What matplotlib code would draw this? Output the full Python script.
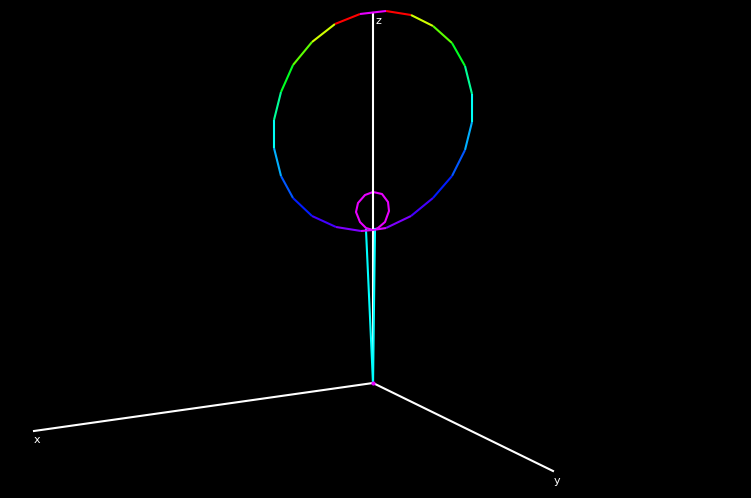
import matplotlib
matplotlib.use("Agg")
from matplotlib import pyplot as plt
from matplotlib.collections import LineCollection

# projected screen positions (pixels)
origin = (373, 383)
axis_ends = {"x": (34, 431), "y": (553, 471), "z": (373, 13)}
label_pos = {"x": (34, 440), "y": (554, 481), "z": (376, 21)}

# big lobe, clockwise from top
big_x = [386, 411, 433, 452, 465, 472, 472, 465, 452, 433, 411, 386, 373,
         361, 336, 312, 293, 281, 274, 274, 281, 293, 312, 335, 360, 386]
big_y = [11, 15, 26, 43, 66, 94, 122, 150, 176, 198, 216, 228, 230,
         231, 227, 216, 198, 176, 148, 120, 92, 65, 42, 24, 14, 11]
# hue of each segment (hsv colormap)
big_hue = [0.0, 0.2, 0.28, 0.36, 0.44, 0.5, 0.56, 0.62, 0.66, 0.72, 0.76, 0.82,
           0.82, 0.76, 0.72, 0.66, 0.62, 0.56, 0.5, 0.44, 0.36, 0.28, 0.2, 0.0, 0.83]

# small lobe
small_x = [373, 366, 360, 356, 358, 365, 373, 382, 388, 389, 385, 378, 373]
small_y = [230, 228, 222, 212, 203, 195, 192, 194, 202, 211, 222, 228, 230]

# stem lines from origin
stem_tops = [(366, 230), (375, 229)]

fig = plt.figure(figsize=(7.51, 4.98), dpi=100, facecolor="black")
ax = fig.add_axes([0, 0, 1, 1], facecolor="black")
ax.set_xlim(0, 751)
ax.set_ylim(498, 0)
ax.axis("off")

cmap = plt.get_cmap("hsv")
lw = 1.5

for name, end in axis_ends.items():
    ax.plot([origin[0], end[0]], [origin[1], end[1]], color="white", lw=lw, zorder=2)
    ax.text(label_pos[name][0], label_pos[name][1], name, color="white",
            fontsize=8, ha="left", va="center", zorder=5)

for top in stem_tops:
    ax.plot([origin[0], top[0]], [origin[1], top[1]], color="#00ffff", lw=lw, zorder=3)

segs = [[(big_x[i], big_y[i]), (big_x[i + 1], big_y[i + 1])] for i in range(len(big_x) - 1)]
lc = LineCollection(segs, colors=[cmap(h) for h in big_hue], linewidths=lw, zorder=4)
ax.add_collection(lc)

ax.plot(small_x, small_y, color=cmap(0.83), lw=lw, zorder=1)
ax.plot([origin[0]], [origin[1]], "o", color=cmap(0.83), ms=2, zorder=4)

fig.savefig("out.png", dpi=100, facecolor="black")
